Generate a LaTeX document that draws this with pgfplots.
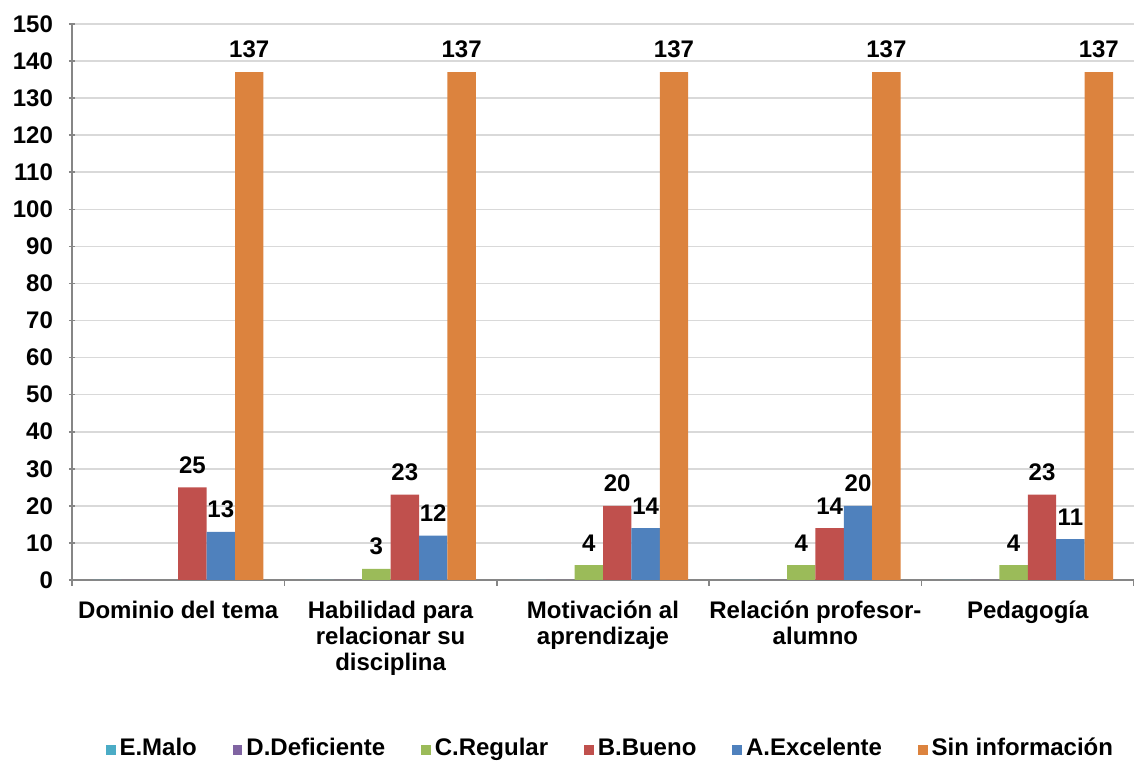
\documentclass[border=0pt]{standalone}
\usepackage{fontspec}
\setmainfont{Liberation Sans}
\usepackage{pgfplots}
\pgfplotsset{compat=1.18}
\definecolor{cMalo}{HTML}{4BACC6}
\definecolor{cDef}{HTML}{8064A2}
\definecolor{cReg}{HTML}{9BBB59}
\definecolor{cBue}{HTML}{C0504D}
\definecolor{cExc}{HTML}{4F81BD}
\definecolor{cSin}{HTML}{DC833E}
\definecolor{cGrid}{HTML}{D9D9D9}
\definecolor{cAxis}{HTML}{868686}
\begin{document}
\begin{tikzpicture}[font=\bfseries\fontsize{12}{13}\selectfont]
\useasboundingbox (-36pt,-92pt) rectangle (531pt,290pt);
\begin{axis}[
  at={(0,0)}, anchor=south west,
  width=531pt, height=278pt, scale only axis,
  ymin=0, ymax=150, ytick={0,10,...,150},
  xmin=0.5, xmax=5.5,
  xtick={1,...,5},
  xticklabels={Dominio del tema, {Habilidad para\\relacionar su\\disciplina}, {Motivación al\\aprendizaje}, {Relación profesor-\\alumno}, Pedagogía},
  minor xtick={0.5,1.5,...,5.5},
  major x tick style={draw=none},
  minor tick length=3pt, major tick length=3pt,
  tick align=outside,
  tick style={cAxis, line width=0.8pt},
  axis lines=left,
  axis line style={-, draw=cAxis, line width=0.8pt},
  ymajorgrids, grid style={draw=cGrid, line width=0.8pt},
  xticklabel style={align=center, font=\bfseries\fontsize{12}{13}\selectfont, anchor=north, yshift=-4pt},
  yticklabel style={font=\bfseries\fontsize{12}{13}\selectfont, xshift=-4.5pt},
  /pgf/number format/assume math mode=true,
  ybar=0pt, bar width=14.2pt,
  every axis plot/.append style={draw=none},
  nodes near coords,
  nodes near coords style={font=\bfseries\fontsize{12}{13}\selectfont, black, yshift=3.5pt},
  legend columns=6,
  legend style={draw=none, at={(0.508,-0.306)}, anchor=center,
    font=\bfseries\fontsize{12}{13}\selectfont,
    nodes={text height=1.6ex, text depth=0.5ex},
    /tikz/every even column/.append style={column sep=16pt}},
  legend image code/.code={\fill[#1] (0pt,-2.4pt) rectangle (4.8pt,2.4pt);},
]
\addplot[fill=cMalo, nodes near coords={}] coordinates {(1,0) (2,0) (3,0) (4,0) (5,0)};
\addplot[fill=cDef, nodes near coords={}] coordinates {(1,0) (2,0) (3,0) (4,0) (5,0)};
\addplot[fill=cReg] coordinates {(2,3) (3,4) (4,4) (5,4)};
\addplot[fill=cBue] coordinates {(1,25) (2,23) (3,20) (4,14) (5,23)};
\addplot[fill=cExc] coordinates {(1,13) (2,12) (3,14) (4,20) (5,11)};
\addplot[fill=cSin] coordinates {(1,137) (2,137) (3,137) (4,137) (5,137)};
\legend{E.Malo, D.Deficiente, C.Regular, B.Bueno, A.Excelente, Sin información}
\end{axis}
\end{tikzpicture}
\end{document}
